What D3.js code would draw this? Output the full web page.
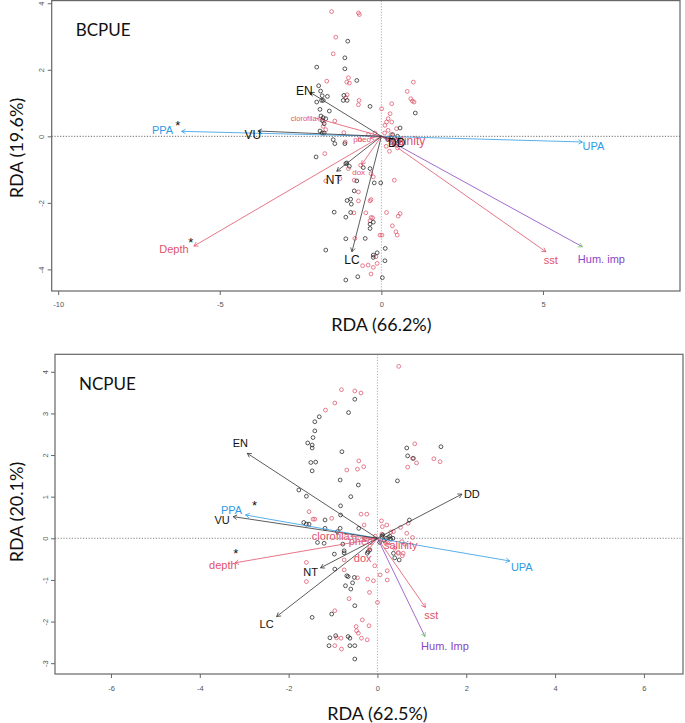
<!DOCTYPE html>
<html><head><meta charset="utf-8">
<script src="https://cdn.jsdelivr.net/npm/d3@7"></script>
<style>body{margin:0;background:#fff}svg{display:block}</style>
</head><body>
<script>
// ---------------- DATA ----------------
// Top panel (BCPUE)
const topTitle = "BCPUE";
const topXLabel = "RDA (66.2%)";
const topYLabel = "RDA (19.6%)";
const topXTicks = [-10, -5, 0, 5];
const topYTicks = [-4, -2, 0, 2, 4];
const topBlackSites = [[-1.04,2.86],[-1.13,2.36],[-1.13,2.03],[-2.0,2.08],[-0.76,1.68],[-1.94,1.52],[-1.88,1.36],[-1.67,1.2],[-1.83,1.22],[-1.80,1.08],[-1.85,1.08],[-1.16,1.23],[-1.18,1.08],[-1.06,1.08],[-2.0,1.03],[-1.90,0.81],[-1.61,0.76],[-0.35,0.9],[-1.87,0.61],[-1.80,0.56],[-1.72,0.53],[-1.83,0.48],[-1.77,0.38],[-1.9,0.16],[-1.83,0.1],[-1.77,0.1],[1.05,0.7],[0.58,0.25],[-1.49,-0.1],[-1.13,-0.22],[-1.44,-0.22],[-2.02,-0.62],[-1.1,-0.82],[-1.07,-0.8],[-0.99,-0.9],[-0.56,-0.94],[-0.35,-0.97],[-0.76,-1.34],[-0.22,-1.4],[-0.02,-1.4],[-0.84,-1.64],[-0.95,-1.89],[-1.06,-1.93],[-0.93,-2.04],[-1.46,-2.28],[-0.95,-2.29],[-1.10,-2.43],[-0.25,-2.58],[-0.35,-2.64],[-0.35,-2.77],[-1.1,-3.08],[-0.5,-3.07],[-1.72,-3.42],[-0.13,-3.5],[-0.25,-3.57],[-0.25,-3.64],[0.12,-3.37],[0.11,-3.74],[-0.73,-4.22],[-1.1,-4.32],[0.03,-4.25],[0.3,-0.05],[0.45,-0.1],[0.55,-0.15],[0.6,-0.1],[0.4,-0.2],[0.2,-0.1],[0.5,0.0],[0.35,0.05]];
const topPinkSites = [[-1.54,3.75],[-0.71,3.71],[-0.68,3.66],[-1.41,2.98],[-1.49,2.48],[-1.69,1.66],[-1.02,1.76],[-1.07,1.63],[-0.99,1.6],[-1.06,1.25],[-1.10,1.16],[-0.69,1.08],[-0.71,0.95],[0.99,1.63],[0.80,1.35],[0.91,1.13],[0.96,1.06],[1.01,1.03],[0.01,0.83],[0.32,0.98],[0.27,0.68],[0.21,0.53],[0.16,0.43],[0.11,0.33],[0.32,0.43],[0.47,0.23],[0.21,0.18],[-1.80,0.30],[-1.72,0.20],[-1.80,0.45],[-1.44,0.46],[-1.16,0.11],[-0.66,-0.1],[-1.12,-0.17],[-1.75,-0.52],[-0.64,-0.87],[-1.02,-0.97],[-0.32,-1.12],[-1.28,-1.27],[-1.72,-1.34],[-0.84,-1.32],[-0.25,-1.22],[0.4,-1.32],[-0.71,-1.67],[-0.32,-1.90],[-0.71,-1.94],[-0.35,-1.94],[-0.85,-2.30],[-0.48,-2.30],[-0.32,-2.44],[-0.35,-2.54],[-0.27,-2.45],[0.16,-2.29],[0.58,-2.32],[0.52,-2.40],[0.34,-2.69],[0.45,-2.87],[0.49,-2.97],[-0.04,-2.97],[0.02,-2.97],[-0.82,-3.07],[-0.17,-3.62],[-0.58,-3.89],[-0.41,-3.87],[-0.25,-3.94],[-0.13,-3.82],[-0.32,-4.14],[0.1,0.1],[0.2,-0.05],[0.3,0.05],[0.4,-0.25],[0.15,-0.3],[0.6,-0.2],[0.5,-0.35],[0.25,-0.45],[-0.2,0.1],[-0.4,0.05]];
const topSpeciesNames = ["EN","VU","NT","LC","DD"];
const topSpeciesX = [-2.2,-3.82,-1.38,-0.91,0.35];
const topSpeciesY = [1.32,0.16,-1.05,-3.47,-0.1];
const topEnvNames = ["PPA","UPA","Depth","sst","Hum. imp","clorofila","dox","pheo","salinity"];
const topEnvX = [-6.18,6.22,-5.8,5.09,6.22,-2.0,-0.61,-0.35,0.45];
const topEnvY = [0.15,-0.17,-3.3,-3.47,-3.32,0.54,-0.85,-0.05,-0.1];
const topStarX = [-6.3,-5.9];
const topStarY = [0.33,-3.2];

// Bottom panel (NCPUE)
const botTitle = "NCPUE";
const botXLabel = "RDA (62.5%)";
const botYLabel = "RDA (20.1%)";
const botXTicks = [-6,-4,-2,0,2,4,6];
const botYTicks = [-3,-2,-1,0,1,2,3,4];
const botBlackSites = [[-0.51,3.34],[-0.65,3.02],[-1.31,2.92],[-1.41,2.80],[-1.41,2.58],[-1.45,2.42],[-1.57,2.29],[-1.47,2.24],[-1.47,2.17],[-0.8,2.08],[-1.5,1.82],[-1.39,1.83],[-1.47,1.62],[0.66,2.17],[1.43,2.2],[0.68,1.98],[0.81,1.92],[0.45,1.38],[-0.84,1.40],[-0.43,1.28],[-0.6,1.0],[-1.77,1.16],[-1.6,1.01],[-0.83,0.78],[-0.83,0.56],[-1.66,0.38],[-1.54,0.34],[-1.6,0.34],[-1.18,0.44],[-1.18,0.24],[-0.84,0.24],[-0.9,0.16],[-0.42,0.24],[0.72,0.44],[-1.35,-0.1],[-1.2,-0.12],[-0.78,-0.14],[-0.97,-0.38],[-0.75,-0.35],[-0.75,-0.3],[-0.21,-0.32],[-0.17,-0.28],[-0.23,-0.36],[0.39,-0.47],[0.49,-0.52],[0.36,-0.36],[-0.96,-0.74],[-0.69,-0.9],[-0.66,-0.92],[-0.56,-1.07],[-0.52,-0.94],[-0.72,-1.14],[-0.6,-1.22],[-0.51,-1.62],[-1.03,-1.82],[-1.47,-1.9],[-0.94,-2.34],[-1.07,-2.39],[-0.66,-2.36],[-0.62,-2.4],[-1.09,-2.58],[-0.62,-2.58],[-0.51,-2.58],[-0.51,-2.9],[0.1,0.05],[0.2,0.0],[0.25,0.02],[0.3,-0.02],[0.15,-0.05],[0.35,0.0],[0.05,-0.1],[0.28,0.05],[0.12,0.08]];
const botPinkSites = [[0.48,4.13],[-0.81,3.57],[-0.51,3.54],[-0.37,3.49],[-0.96,3.25],[-1.17,3.08],[0.84,2.27],[-0.42,1.86],[-0.31,1.72],[-0.45,1.66],[-0.69,1.64],[0.68,1.71],[0.88,1.81],[0.79,1.92],[1.27,1.91],[1.41,1.84],[-1.54,0.64],[-0.37,0.58],[-0.24,0.58],[-1.45,0.46],[-1.41,0.46],[-1.03,0.48],[-0.3,0.32],[0.09,0.42],[0.11,0.28],[0.21,0.32],[0.52,0.26],[0.36,0.16],[0.66,0.12],[0.79,0.02],[0.55,-0.08],[0.62,-0.14],[0.47,-0.34],[0.56,-0.42],[0.39,-0.24],[0.22,-0.78],[0.22,-1.0],[0.06,-0.88],[-0.09,-1.02],[-0.22,-0.98],[-0.45,-0.95],[-0.18,-1.3],[-0.64,-1.45],[0.0,-1.54],[-0.96,-1.74],[-1.6,-0.58],[-1.6,-1.04],[-0.75,-0.52],[-0.75,-0.76],[-0.34,-1.96],[-0.19,-2.1],[-0.48,-2.12],[-0.47,-2.22],[-0.43,-2.28],[-0.36,-2.4],[-0.23,-2.44],[-0.82,-2.4],[-0.92,-2.39],[-0.96,-2.58],[-0.81,-2.66],[0.69,0.36],[0.58,-0.36],[0.47,-0.36],[-0.06,-0.66],[0.1,0.1],[0.18,-0.1],[0.3,0.15],[-0.05,0.05]];
const botSpeciesNames = ["EN","VU","NT","LC","DD"];
const botSpeciesX = [-2.93,-3.25,-1.28,-2.27,1.9];
const botSpeciesY = [2.04,0.52,-0.71,-1.88,1.06];
const botEnvNames = ["PPA","UPA","depth","sst","Hum. Imp","clorofila","dox","pheo","salinity"];
const botEnvX = [-2.97,2.98,-3.21,1.08,1.07,-0.6,-0.22,-0.35,0.3];
const botEnvY = [0.56,-0.545,-0.59,-1.66,-2.36,0.05,-0.3,0.0,-0.15];
const botStarX = [-2.77,-3.19];
const botStarY = [0.78,-0.37];

// ---------------- STYLE / LAYOUT ----------------
const COL = {black:"#222", pink:"#DF536B", blue:"#2E9BE6", purple:"#8A45C2", green:"#61D04F", axis:"#555"};
const envColor = {"PPA":COL.blue,"UPA":COL.blue,"Hum. imp":COL.purple,"Hum. Imp":COL.purple};
const W = 685, H = 723;
const svg = d3.select("body").append("svg").attr("width",W).attr("height",H)
  .style("font-family","'Liberation Sans', Arial, sans-serif");

function panel(cfg){
  const g = svg.append("g");
  const x = d3.scaleLinear().domain(cfg.xDom).range([cfg.left, cfg.right]);
  const y = d3.scaleLinear().domain(cfg.yDom).range([cfg.bottom, cfg.top]);

  // zero reference lines
  g.append("line").attr("x1",cfg.left).attr("x2",cfg.right).attr("y1",y(0)).attr("y2",y(0))
    .attr("stroke",cfg.hzCol).attr("stroke-width",0.8).attr("stroke-dasharray","1.2,1.6");
  g.append("line").attr("x1",x(0)).attr("x2",x(0)).attr("y1",cfg.top).attr("y2",cfg.bottom)
    .attr("stroke","#999").attr("stroke-width",0.8).attr("stroke-dasharray","1.2,1.6");

  // sites
  const drawPts = (pts,col)=> g.append("g").selectAll("circle").data(pts).join("circle")
    .attr("cx",d=>x(d[0])).attr("cy",d=>y(d[1])).attr("r",1.9)
    .attr("fill","none").attr("stroke",col).attr("stroke-width",0.75);
  drawPts(cfg.pink, COL.pink);
  drawPts(cfg.black, COL.black);

  // arrows
  function arrow(ex,ey,col,headCol){
    const x0=x(0), y0=y(0), x1=x(ex), y1=y(ey);
    g.append("line").attr("x1",x0).attr("y1",y0).attr("x2",x1).attr("y2",y1)
      .attr("stroke",col).attr("stroke-width",0.8);
    const ang = Math.atan2(y1-y0, x1-x0), L=4.5, a=Math.PI/6;
    const p = d3.path();
    p.moveTo(x1 - L*Math.cos(ang-a), y1 - L*Math.sin(ang-a));
    p.lineTo(x1,y1);
    p.lineTo(x1 - L*Math.cos(ang+a), y1 - L*Math.sin(ang+a));
    g.append("path").attr("d",p.toString()).attr("fill","none").attr("stroke",headCol||col).attr("stroke-width",0.8);
  }
  cfg.envNames.forEach((n,i)=>arrow(cfg.envX[i],cfg.envY[i], envColor[n]||COL.pink, (n.startsWith("Hum")?COL.green:null)));
  cfg.spNames.forEach((n,i)=>arrow(cfg.spX[i],cfg.spY[i], "#333"));

  // labels
  function label(n,ex,ey,col){
    const o = cfg.offs[n];
    g.append("text").attr("x",x(ex)+o[0]).attr("y",y(ey)+o[1]).attr("text-anchor","middle")
      .attr("dominant-baseline","central").attr("font-size",o[2]).attr("fill",col).text(n);
  }
  cfg.envNames.forEach((n,i)=>label(n,cfg.envX[i],cfg.envY[i], envColor[n]||COL.pink));
  cfg.spNames.forEach((n,i)=>label(n,cfg.spX[i],cfg.spY[i], "#111"));
  cfg.starX.forEach((sx,i)=> g.append("text").attr("x",x(sx)).attr("y",y(cfg.starY[i])).attr("text-anchor","middle")
    .attr("dominant-baseline","central").attr("font-size",13).attr("fill","#111").text("*"));

  // box
  g.append("rect").attr("x",cfg.left).attr("y",cfg.top).attr("width",cfg.right-cfg.left).attr("height",cfg.bottom-cfg.top)
    .attr("fill","none").attr("stroke",cfg.boxCol).attr("stroke-width",1.2);

  // axes
  const ax = g.append("g").attr("transform",`translate(0,${cfg.bottom})`)
    .call(d3.axisBottom(x).tickValues(cfg.xTicks).tickSize(4).tickPadding(cfg.xPad).tickFormat(d3.format("d")));
  const ay = g.append("g").attr("transform",`translate(${cfg.left},0)`)
    .call(d3.axisLeft(y).tickValues(cfg.yTicks).tickSize(4).tickPadding(4).tickFormat(d3.format("d")));
  [ax,ay].forEach(a=>{
    a.select(".domain").remove();
    a.selectAll("line").attr("stroke",cfg.boxCol);
    a.selectAll("text").attr("font-size",7.5).attr("fill","#555").style("font-family","'Liberation Sans', Arial, sans-serif");
  });
  ax.selectAll("text").text(d=> d<0 ? "-"+Math.abs(d) : d);
  ay.selectAll("text").text(d=> d<0 ? "-"+Math.abs(d) : d)
    .attr("text-anchor","middle").attr("dy",null).attr("dominant-baseline","central");
  ay.selectAll(".tick").each(function(d){
    d3.select(this).select("text").attr("x",-10).attr("y",0).attr("transform","rotate(-90,-10,0)");
  });

  // titles
  const tf = "Lato, 'Open Sans', sans-serif";
  g.append("text").attr("x",cfg.left+24).attr("y",cfg.titleY).attr("dominant-baseline","central")
    .attr("font-size",17).style("font-family",tf).attr("fill","#111").text(cfg.title);
  g.append("text").attr("x",x(0)).attr("y",cfg.xLabY).attr("text-anchor","middle").attr("dominant-baseline","central")
    .attr("font-size",18).style("font-family",tf).attr("fill","#111").text(cfg.xLab);
  g.append("text").attr("transform",`translate(16,${cfg.yLabY}) rotate(-90)`).attr("text-anchor","middle")
    .attr("dominant-baseline","central").attr("font-size",18).style("font-family",tf).attr("fill","#111").text(cfg.yLab);
}

panel({
  xDom:[-10.2,9.24], yDom:[-4.65,4.08], left:51.7, right:680, top:0.6, bottom:291,
  black:topBlackSites, pink:topPinkSites,
  spNames:topSpeciesNames, spX:topSpeciesX, spY:topSpeciesY,
  envNames:topEnvNames, envX:topEnvX, envY:topEnvY,
  starX:topStarX, starY:topStarY,
  xTicks:topXTicks, yTicks:topYTicks, xPad:7,
  title:topTitle, xLab:topXLabel, yLab:topYLabel, titleY:29.5, xLabY:324, yLabY:148,
  hzCol:"#444", boxCol:"#666",
  offs:{"EN":[-6,-1,12],"VU":[-5,4,12],"NT":[-3,9,12],"LC":[0,8,12],"DD":[4,3,12],
        "PPA":[-19,-1,11],"UPA":[11,4,11],"Depth":[-20,3,11],"sst":[5,8,11],"Hum. imp":[19,12,11],
        "clorofila":[-13,0,7.5],"dox":[-3,8,8],"pheo":[-8,2,8],"salinity":[11,1,12]}
});

panel({
  xDom:[-7.26,6.88], yDom:[-3.26,4.42], left:55, right:683, top:354.3, bottom:674,
  black:botBlackSites, pink:botPinkSites,
  spNames:botSpeciesNames, spX:botSpeciesX, spY:botSpeciesY,
  envNames:botEnvNames, envX:botEnvX, envY:botEnvY,
  starX:botStarX, starY:botStarY,
  xTicks:botXTicks, yTicks:botYTicks, xPad:8,
  title:botTitle, xLab:botXLabel, yLab:botYLabel, titleY:383, xLabY:713, yLabY:512,
  hzCol:"#666", boxCol:"#666",
  offs:{"EN":[-7,-10,11],"VU":[-11,3,11],"NT":[-10,4,11],"LC":[-10,7,11],"DD":[10,0,11],
        "PPA":[-14,-5,11],"UPA":[12,6,11],"depth":[-12,2,11],"sst":[6,8,11],"Hum. Imp":[20,9,11],
        "clorofila":[-20,0,11],"dox":[-5,7,11],"pheo":[-1,3,11],"salinity":[10,0,11]}
});
</script>
</body></html>
